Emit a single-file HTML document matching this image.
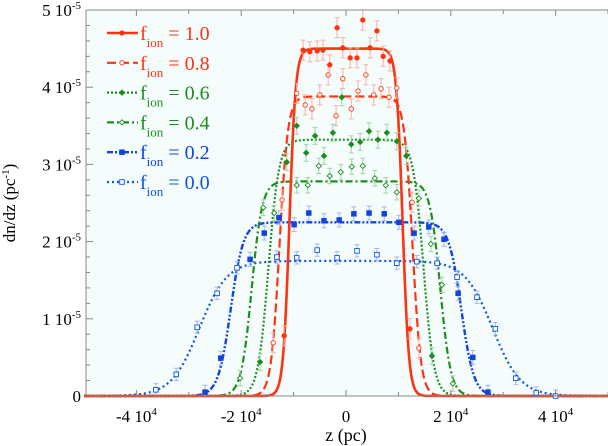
<!DOCTYPE html>
<html><head><meta charset="utf-8">
<style>
html,body{margin:0;padding:0;background:#fff;width:608px;height:446px;overflow:hidden}
svg text{font-family:"Liberation Serif",serif}
</style></head>
<body>
<svg id="chart" width="608" height="446" viewBox="0 0 608 446" xmlns="http://www.w3.org/2000/svg">
<rect x="86" y="10" width="522" height="386" fill="#f4fcfc"/>
<g id="curves"></g>
<g id="points"></g>
<g id="axes"></g>
<g id="legend"></g>
<text x="346" y="441" font-size="18" text-anchor="middle">z (pc)</text>
<text transform="translate(15,203) rotate(-90)" font-size="17" text-anchor="middle">dn/dz (pc<tspan dy="-6" font-size="11">-1</tspan><tspan dy="6">)</tspan></text>
</svg>
<script>
// values: z in units of 1e4 pc, dn/dz in units of 1e-5 pc^-1
const seriesLabels = ["1.0","0.8","0.6","0.4","0.2","0.0"];
const seriesHeight = [4.5, 3.88, 3.32, 2.78, 2.25, 1.75];
const seriesHalfWidth = [1.08, 1.27, 1.48, 1.8, 2.2, 2.8];
const seriesSoftness = [0.06, 0.08, 0.1, 0.1, 0.12, 0.265];
const xTicks = [-4,-2,0,2,4];
const yTicks = [0,1,2,3,4,5];

const pts10 = [[-1.18,0.78],[-0.82,4.48],[-0.69,4.46],[-0.55,4.47],[-0.44,4.48],[-0.31,4.29],[-0.17,4.77],[-0.06,4.51],[0.08,4.38],[0.21,4.38],[0.32,4.87],[0.46,4.51],[0.59,4.73],[0.71,4.40],[0.84,4.34],[1.22,0.87]];
const pts08 = [[-1.39,0.69],[-1.22,2.54],[-0.94,3.92],[-0.78,3.77],[-0.65,3.72],[-0.50,3.90],[-0.34,4.16],[-0.19,3.63],[-0.06,4.11],[0.10,3.72],[0.23,3.95],[0.38,4.16],[0.53,3.90],[0.67,3.98],[0.82,3.87],[0.97,3.99],[1.26,2.51],[1.39,0.62]];
const pts06 = [[-1.64,0.44],[-1.13,3.03],[-0.94,3.50],[-0.76,3.15],[-0.59,3.37],[-0.42,3.11],[-0.25,3.41],[-0.08,3.87],[0.10,3.26],[0.27,3.29],[0.44,3.43],[0.61,3.32],[0.78,3.41],[0.97,3.30],[1.15,3.11],[1.64,0.52]];
const pts04 = [[-2.02,0.23],[-1.58,2.44],[-1.37,2.37],[-0.94,2.73],[-0.73,2.73],[-0.52,2.98],[-0.31,2.85],[-0.10,2.90],[0.11,2.97],[0.32,2.98],[0.55,2.82],[0.76,2.73],[0.97,2.64],[1.39,2.56],[1.62,1.97],[1.83,1.44],[2.04,0.16]];
const pts02 = [[-2.69,0.05],[-2.39,0.49],[-1.83,1.77],[-1.56,2.11],[-1.28,2.31],[-0.99,2.22],[-0.71,2.37],[-0.42,2.27],[-0.13,2.28],[0.15,2.36],[0.44,2.37],[0.73,2.36],[1.01,2.25],[1.30,2.11],[1.58,2.19],[1.87,2.03],[2.14,1.33],[2.42,0.50],[2.71,0.05]];
const pts00 = [[-3.63,0.08],[-3.24,0.28],[-2.84,0.89],[-2.46,1.33],[-2.08,1.66],[-1.32,1.80],[-0.94,1.79],[-0.55,1.89],[-0.17,1.79],[0.21,1.88],[0.59,1.83],[0.97,1.72],[1.35,1.74],[1.74,1.72],[2.12,1.54],[2.50,1.28],[2.85,0.87],[3.24,0.23],[3.63,0.04],[4.0,0.0]];

const NS="http://www.w3.org/2000/svg";
const X0=86, X1=608, Y0=396, Y1=10;
function xs(z){return 346 + z*52.4;}
function ys(v){return 396 - v*77.2;}
function mk(tag,attrs,parent){const e=document.createElementNS(NS,tag);for(const k in attrs)e.setAttribute(k,attrs[k]);parent.appendChild(e);return e;}

const colors=["#ff3311","#ff3311","#1e8c1e","#1e8c1e","#1144dd","#1155dd"];
const errColors=["#f7b0a2","#f7b0a2","#a4d4a4","#a4d4a4","#a4b8f2","#a4b8f2"];
const dashes=["","9,4","2,2","7,3,2,3","6,2,2,2,2,2","2,3"];
const widths=[2.6,2.2,2.2,2.2,2.4,2.2];
const ptsAll=[pts10,pts08,pts06,pts04,pts02,pts00];
const errSize=[0.13,0.13,0.11,0.1,0.09,0.08];

const gc=document.getElementById('curves');
for(let i=5;i>=0;i--){
  let d="";
  for(let k=0;k<=500;k++){
    const z=-5+k*0.02;
    const v=seriesHeight[i]/(1+Math.exp((Math.abs(z)-seriesHalfWidth[i])/seriesSoftness[i]));
    d+=(k?"L":"M")+xs(z).toFixed(2)+","+ys(v).toFixed(2);
  }
  const p=mk('path',{d:d,fill:'none',stroke:colors[i],'stroke-width':widths[i],'stroke-dasharray':dashes[i]},gc);
  
  
}

const gp=document.getElementById('points');
function marker(i,cx,cy,parent){
  let m;
  if(i<2){m=mk('circle',{cx:cx,cy:cy,r:2.2,fill:i==0?colors[i]:'#fff',stroke:colors[i],'stroke-width':0.9},parent);}
  else if(i<4){m=mk('path',{d:`M${cx},${cy-2.6}L${cx+2.6},${cy}L${cx},${cy+2.6}L${cx-2.6},${cy}Z`,fill:i==2?colors[i]:'#fff',stroke:colors[i],'stroke-width':0.9},parent);}
  else {m=mk('rect',{x:cx-2.3,y:cy-2.3,width:4.6,height:4.6,fill:i==4?colors[i]:'#fff',stroke:colors[i],'stroke-width':0.9},parent);}
  return m;
}
for(let i=5;i>=0;i--){
  ptsAll[i].forEach(function(p){
    const cx=xs(p[0]), cy=ys(p[1]);
    const g=mk('g',{},gp);
    
    
    const t=ys(p[1]+errSize[i]), b=ys(Math.max(0,p[1]-errSize[i]));
    mk('path',{d:`M${cx},${t}L${cx},${b}M${cx-2.5},${t}L${cx+2.5},${t}M${cx-2.5},${b}L${cx+2.5},${b}`,stroke:errColors[i],'stroke-width':1,fill:'none'},g);
    marker(i,cx,cy,g);
  });
}

const ga=document.getElementById('axes');
mk('path',{d:`M${X0},${Y1}L${X0},${Y0}L${X1},${Y0}M${X0},${Y1}L${X1},${Y1}`,stroke:'#888','stroke-width':1,fill:'none'},ga);
for(let z=-5;z<=5;z++){
  const x=xs(z);
  if(x<X0||x>X1)continue;
  const len=(z%2===0)?6:4;
  mk('path',{d:`M${x},${Y0}L${x},${Y0-len}M${x},${Y1}L${x},${Y1+len}`,stroke:'#888','stroke-width':1},ga);
}
for(let k=0;k<=25;k++){
  const v=k*0.2, y=ys(v);
  const len=(k%5===0)?7:4;
  mk('path',{d:`M${X0},${y}L${X0+len},${y}`,stroke:'#888','stroke-width':1},ga);
}
xTicks.forEach(function(t){
  const tx=mk('text',{x:xs(t),y:422,'font-size':17,'text-anchor':'middle'},ga);
  
  
  if(t===0){tx.textContent='0';}
  else{tx.textContent=t+' 10';const s=document.createElementNS(NS,'tspan');s.setAttribute('dy','-7');s.setAttribute('font-size','11');s.textContent='4';tx.appendChild(s);}
});
yTicks.forEach(function(t){
  const ty=mk('text',{x:81,y:ys(t)+6,'font-size':17,'text-anchor':'end'},ga);
  
  
  if(t===0){ty.textContent='0';}
  else{ty.textContent=t+' 10';const s=document.createElementNS(NS,'tspan');s.setAttribute('dy','-7');s.setAttribute('font-size','11');s.textContent='-5';ty.appendChild(s);}
});

const gl=document.getElementById('legend');
seriesLabels.forEach(function(lab,i){
  const y=33+i*29.8;
  const g=mk('g',{},gl);
  
  
  mk('path',{d:`M107,${y}L138,${y}`,stroke:colors[i],'stroke-width':widths[i],'stroke-dasharray':dashes[i]},g);
  marker(i,122,y,g);
  const t=mk('text',{x:140,y:y+7,'font-size':20,fill:colors[i]},g);
  t.textContent='f';
  const s=document.createElementNS(NS,'tspan');s.setAttribute('dy','7');s.setAttribute('font-size','13');s.textContent='ion';t.appendChild(s);
  const s2=document.createElementNS(NS,'tspan');s2.setAttribute('dy','-7');s2.textContent=' = '+lab;t.appendChild(s2);
});
</script>
</body></html>
